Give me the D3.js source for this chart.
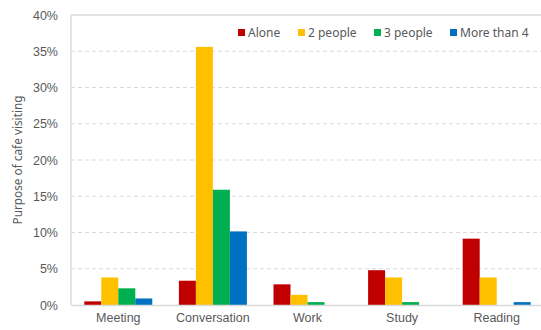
<!DOCTYPE html>
<html>
<head>
<meta charset="utf-8">
<script src="https://cdn.jsdelivr.net/npm/d3@7"></script>
<style>
  html, body { margin: 0; padding: 0; background: #fff; overflow: hidden; }
  svg { display: block; font-family: "Noto Sans", "Open Sans", sans-serif; }
</style>
</head>
<body>
<div id="chart"></div>
<script>
// data
const purposes = ["Meeting", "Conversation", "Work", "Study", "Reading"];
const groups = ["Alone", "2 people", "3 people", "More than 4"];
const alone = [0.5, 3.35, 2.85, 4.8, 9.15];
const twoPeople = [3.8, 35.6, 1.4, 3.8, 3.8];
const threePeople = [2.3, 15.9, 0.4, 0.4, 0];
const moreThan4 = [0.9, 10.15, 0, 0, 0.4];
const yTicks = [0, 5, 10, 15, 20, 25, 30, 35, 40];
const colors = ["#C00000", "#FFC000", "#00B050", "#0070C0"];

const seriesValues = [alone, twoPeople, threePeople, moreThan4];

const width = 541, height = 330;
const margin = { left: 71, right: -3, top: 15, bottom: 25 };

const svg = d3.select("#chart").append("svg")
  .attr("width", width)
  .attr("height", height);

const innerWidth = width - margin.left - margin.right;
const innerHeight = height - margin.top - margin.bottom;

const g = svg.append("g")
  .attr("transform", `translate(${margin.left},${margin.top})`);

//scale
const xScale = d3.scaleBand().domain(purposes).range([0, innerWidth]);
const x1 = d3.scaleBand().domain(groups)
  .range([xScale.bandwidth() / 2 - 34, xScale.bandwidth() / 2 + 34]);
const yScale = d3.scaleLinear().domain([0, 40]).range([innerHeight, 0]);
const color = d3.scaleOrdinal().domain(groups).range(colors);

// grid
g.append("g")
  .selectAll("line")
  .data(yTicks.filter(d => d > 0 && d < 40))
  .join("line")
  .attr("x1", 0)
  .attr("x2", innerWidth)
  .attr("y1", d => yScale(d))
  .attr("y2", d => yScale(d))
  .attr("stroke", "#d9d9d9")
  .attr("stroke-dasharray", "4,3");

// frame: top, left
g.append("line").attr("x1", 0).attr("x2", innerWidth).attr("y1", 0).attr("y2", 0)
  .attr("stroke", "#e3e3e3").attr("stroke-width", 2);
g.append("line").attr("x1", 0).attr("x2", 0).attr("y1", 0).attr("y2", innerHeight)
  .attr("stroke", "#e3e3e3").attr("stroke-width", 2);

//y axis
const yAxis = g.append("g")
  .call(d3.axisLeft(yScale).tickValues(yTicks).tickFormat(d => d + "%").tickSize(0).tickPadding(13));
yAxis.select(".domain").remove();
yAxis.selectAll("text").attr("fill", "#595959").style("font-size", "12.5px");

// bars
const rows = [];
purposes.forEach((p, i) => {
  groups.forEach((s, j) => rows.push({ purpose: p, group: s, value: seriesValues[j][i] }));
});

g.selectAll("rect.bar")
  .data(rows.filter(d => d.value > 0))
  .join("rect")
  .attr("class", "bar")
  .attr("x", d => xScale(d.purpose) + x1(d.group))
  .attr("y", d => yScale(d.value))
  .attr("width", x1.bandwidth())
  .attr("height", d => innerHeight - yScale(d.value))
  .attr("fill", d => color(d.group));

//x axis
const xAxis = g.append("g")
  .attr("transform", `translate(0,${innerHeight})`)
  .call(d3.axisBottom(xScale).tickSize(0).tickPadding(0));
xAxis.select(".domain").attr("stroke", "#d9d9d9").attr("stroke-width", 1.5);
xAxis.selectAll("text")
  .attr("y", 17)
  .attr("dy", null)
  .attr("fill", "#595959")
  .style("font-size", "12.5px");

//label
g.append("g")
  .attr("transform", `translate(-49,${innerHeight / 2}) rotate(270)`)
  .append("text")
  .text("Purpose of cafe visiting")
  .attr("fill", "#595959")
  .style("text-anchor", "middle")
  .style("font-size", "11.8px");

// legend
const legendX = [238, 298, 374, 450];
const legend = svg.append("g").attr("transform", "translate(0,29)");
legend.selectAll("rect")
  .data(groups)
  .join("rect")
  .attr("x", (d, i) => legendX[i])
  .attr("y", 0)
  .attr("width", 7)
  .attr("height", 7)
  .attr("fill", d => color(d));
legend.selectAll("text")
  .data(groups)
  .join("text")
  .attr("x", (d, i) => legendX[i] + 10)
  .attr("y", 8)
  .attr("fill", "#595959")
  .style("font-size", "12px")
  .text(d => d);
</script>
</body>
</html>
